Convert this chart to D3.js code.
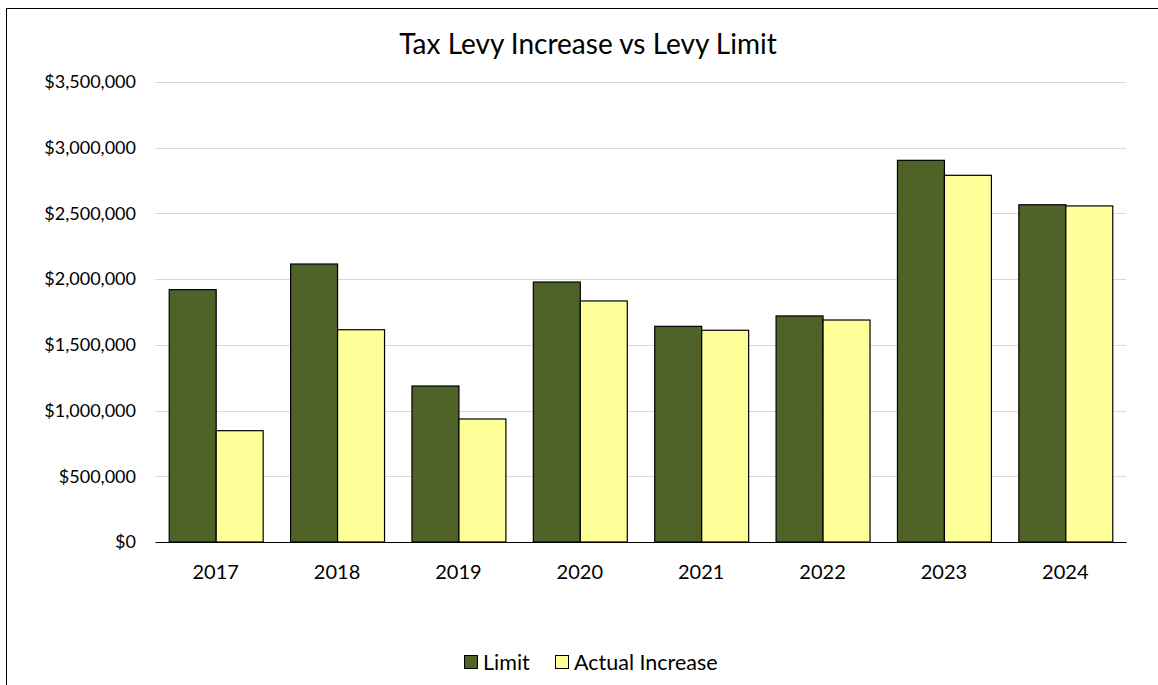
<!DOCTYPE html>
<html><head><meta charset="utf-8">
<script src="https://cdn.jsdelivr.net/npm/d3@7"></script>
<style>body{margin:0;background:#fff;} svg{display:block;}</style>
</head><body>
<svg id="c" width="1158" height="685"></svg>
<script>
const categories = ["2017","2018","2019","2020","2021","2022","2023","2024"];
const limitValues = [1920000, 2115000, 1187000, 1978000, 1641000, 1720000, 2904000, 2566000];
const actualValues = [847000, 1615000, 936000, 1834000, 1611000, 1689000, 2790000, 2557000];
const seriesNames = ["Limit", "Actual Increase"];
const seriesColors = ["#4F6228", "#FFFF99"];
const yTicks = [0, 500000, 1000000, 1500000, 2000000, 2500000, 3000000, 3500000];
const title = "Tax Levy Increase vs Levy Limit";

const font = "Lato, 'Open Sans', sans-serif";
const svg = d3.select("#c");
// chart frame
svg.append("rect").attr("x",6.5).attr("y",8.5).attr("width",1200).attr("height",800)
  .attr("fill","#fff").attr("stroke","#000").attr("stroke-width",1);

const m = {l:155, r:1126, t:82, b:542};
const x = d3.scaleBand().domain(categories).range([m.l, m.r]).paddingInner(0.226).paddingOuter(0.113);
const x1 = d3.scaleBand().domain(seriesNames).range([0, x.bandwidth()]);
const y = d3.scaleLinear().domain([0, 3500000]).range([m.b, m.t]);

// gridlines
svg.append("g").selectAll("line").data(yTicks.filter(d=>d>0)).join("line")
  .attr("x1",m.l).attr("x2",m.r).attr("y1",d=>Math.round(y(d))+0.5).attr("y2",d=>Math.round(y(d))+0.5)
  .attr("stroke","#d9d9d9").attr("stroke-width",1);

// y axis labels
const fmt = d3.format("$,");
const yAxis = d3.axisLeft(y).tickValues(yTicks).tickFormat(d=>fmt(d)).tickSize(0).tickPadding(19);
const ya = svg.append("g").attr("transform",`translate(${m.l},0)`).call(yAxis);
ya.select(".domain").remove();
ya.selectAll("text").attr("font-family",font).attr("font-size",18).attr("fill","#000");

// bars
const data = categories.map((c,i)=>({c, vals:[limitValues[i], actualValues[i]]}));
const groups = svg.append("g").selectAll("g").data(data).join("g")
  .attr("transform",d=>`translate(${x(d.c)},0)`);
groups.selectAll("rect").data(d=>d.vals.map((v,i)=>({v, s:seriesNames[i], i}))).join("rect")
  .attr("x",d=>x1(d.s)+0.5).attr("width",x1.bandwidth())
  .attr("y",d=>y(d.v)).attr("height",d=>y(0)-y(d.v))
  .attr("fill",d=>seriesColors[d.i]).attr("stroke","#000").attr("stroke-width",1.2);

// x axis
const xAxis = d3.axisBottom(x).tickSize(0).tickPadding(23);
const xa = svg.append("g").attr("transform",`translate(0,${m.b})`).call(xAxis);
xa.select(".domain").attr("stroke","#000").attr("stroke-width",1.2);
xa.selectAll("text").attr("font-family",font).attr("font-size",20).attr("fill","#000");

// title
svg.append("text").attr("x",588).attr("y",54).attr("text-anchor","middle")
  .attr("font-family",font).attr("font-size",28).attr("fill","#000").text(title);

// legend
const legend = [{x:464, tx:483},{x:555, tx:574}];
legend.forEach((l,i)=>{
  svg.append("rect").attr("x",l.x+0.5).attr("y",655.5).attr("width",13).attr("height",13)
    .attr("fill",seriesColors[i]).attr("stroke","#000").attr("stroke-width",1);
  svg.append("text").attr("x",l.tx).attr("y",670).attr("font-family",font).attr("font-size",21.5)
    .attr("fill","#000").text(seriesNames[i]);
});
</script>
</body></html>
